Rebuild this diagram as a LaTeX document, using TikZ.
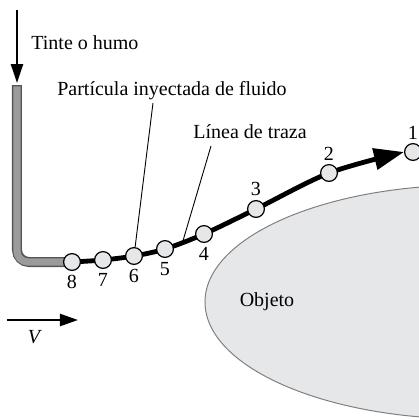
\documentclass[tikz,border=0pt]{standalone}
\usepackage{fontspec}
\setmainfont{Liberation Serif}
\usetikzlibrary{arrows.meta,positioning,calc,backgrounds}
\definecolor{dotfill}{RGB}{230,231,233}
\definecolor{objfill}{RGB}{230,231,233}
\definecolor{tubefill}{RGB}{155,155,157}
\definecolor{tubeedge}{RGB}{85,85,85}
\tikzset{
  dot/.style={circle,draw=black,line width=0.6pt,fill=dotfill,minimum size=8.4pt,inner sep=0pt},
  streak/.style={line width=2.4pt,line cap=round},
  leader/.style={line width=0.45pt},
  lbl/.style={font=\fontsize{10}{12}\selectfont,inner sep=1pt}
}
\begin{document}
\begin{tikzpicture}[x=0.5pt,y=-0.5pt,lbl,label distance=0.8pt]
    \useasboundingbox (0,0) rectangle (419,420);
    \clip (0,0) rectangle (419,420);
    % object
    \node[lbl] (obj) at (267,302) {Objeto};
    \begin{scope}[on background layer]
      \draw[fill=objfill,draw=gray,line width=0.5pt] (470,302) ellipse [x radius=132.5pt,y radius=58.5pt];
    \end{scope}
    % dye injection
    \coordinate (dyetop) at (17,10);
    \coordinate (tubetop) at (17,85);
    \draw[line width=1.2pt,-{Triangle[length=9.5pt,width=6pt]}] (dyetop) -- (17,83);
    \node[lbl,anchor=west] (dye) at (29,43) {Tinte o humo};
    % particles
    \node[dot,label={[lbl]below:8}] (p8) at (72,262) {};
    \node[dot,label={[lbl]below:7}] (p7) at (103,260) {};
    \node[dot,label={[lbl]below:6}] (p6) at (134,256) {};
    \node[dot,label={[lbl]below:5}] (p5) at (165,249) {};
    \node[dot,label={[lbl]below:4}] (p4) at (204,234) {};
    \node[dot,label={[lbl]above:3}] (p3) at (256,209) {};
    \node[dot,label={[lbl]above:2}] (p2) at (329,173) {};
    \node[dot,label={[lbl]above:1}] (p1) at (413,152) {};
    \begin{scope}[on background layer]
      \draw[line width=5pt,tubeedge,rounded corners=6pt] (tubetop) -- (17,262) -- (p8.center);
      \draw[line width=3.6pt,tubefill,rounded corners=5.5pt,shorten <=0.7pt] (tubetop) -- (17,262) -- (p8.center);
      \draw[streak,-{Triangle[length=15pt,width=10.5pt]}] plot[smooth,tension=0.5] coordinates {(p8) (p7) (p6) (p5) (p4) (p3) (p2) (p1.west)};
    \end{scope}
    % labels with leaders
    \node[lbl] (inj) at (172,91) {Partícula inyectada de fluido};
    \node[lbl] (streakname) at (250,132) {Línea de traza};
    \coordinate (onstreak) at ($(p5)!0.45!(p4)$);
    \draw[leader] (153,103) -- (p6);
    \draw[leader] (211,146) -- (onstreak);
    % free stream
    \coordinate (vstart) at (7,320);
    \draw[line width=1.2pt,-{Triangle[length=9pt,width=6pt]}] (vstart) -- (78,320);
    \node[lbl] (vel) at (35,337) {\textit{V}};
\end{tikzpicture}
\end{document}
